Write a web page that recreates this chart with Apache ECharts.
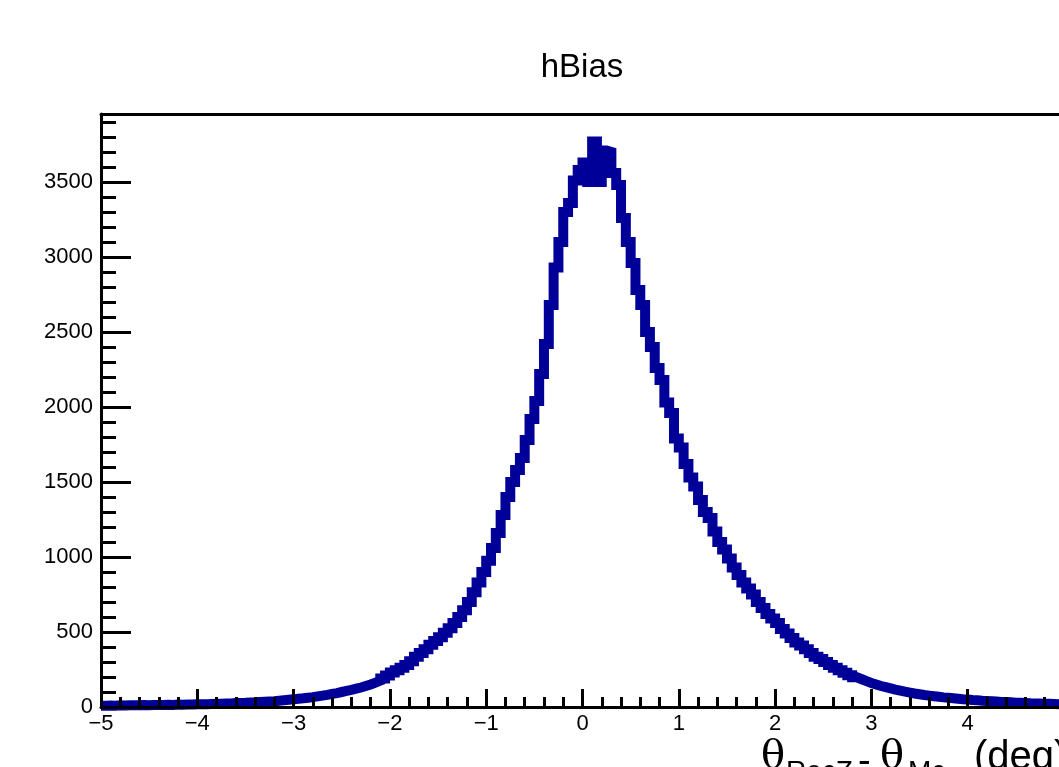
<!DOCTYPE html>
<html>
<head>
<meta charset="utf-8">
<script src="https://cdn.jsdelivr.net/npm/echarts@6/dist/echarts.min.js"></script>
<style>
html,body{margin:0;padding:0;background:#fff;}
#chart{width:1059px;height:767px;}
</style>
</head>
<body>
<div id="chart"></div>
<script>
// Histogram hBias: 200 bins from -5 to 5
const xMin = -5;
const xMax = 5;
const binWidth = 0.05;
const counts = [
  8,10,9,11,10,12,11,12,13,12,13,14,13,15,14,16,15,17,16,18,
  18,19,20,21,22,23,24,26,27,28,30,31,33,35,37,39,42,45,48,51,
  55,58,62,66,71,76,81,87,93,100,107,114,122,130,140,150,162,175,190,210,
  230,245,262,280,305,335,360,385,415,440,465,495,525,560,600,645,700,765,830,900,
  975,1060,1160,1280,1400,1500,1580,1660,1780,1920,2040,2220,2420,2680,2930,3100,3300,3360,3510,3580,
  3630,3500,3770,3500,3710,3700,3560,3480,3260,3100,2960,2780,2680,2500,2400,2260,2180,2030,1960,1790,
  1730,1620,1530,1470,1380,1300,1260,1170,1100,1050,990,930,880,830,790,750,700,660,620,590,
  560,520,490,460,430,410,385,360,335,320,300,280,262,245,228,212,198,185,172,160,
  150,140,132,124,116,109,102,96,90,85,80,76,72,68,64,61,58,55,52,50,
  47,45,42,40,38,36,34,33,31,29,28,27,25,24,23,22,21,20,19,18
];
const yMax = 3953;
const yMajor = 500;
const yMinor = 100;
const xMajor = 1;

const data = counts.map((v, i) => [xMin + i * binWidth, v]);
data.push([xMax, counts[counts.length - 1]]);

const chart = echarts.init(document.getElementById('chart'));
const labelFont = { color: '#000', fontFamily: 'Liberation Sans, Arial, sans-serif', fontSize: 22 };
chart.setOption({
  animation: false,
  backgroundColor: '#fff',
  title: {
    text: 'hBias',
    left: 577,
    top: 46,
    textAlign: 'center',
    textStyle: { color: '#000', fontFamily: 'Liberation Sans, Arial, sans-serif', fontSize: 33, fontWeight: 'normal' }
  },
  grid: { left: 101, right: -5, top: 114, bottom: 60, containLabel: false, outerBoundsMode: 'none' },
  xAxis: [
    {
      type: 'value', min: xMin, max: xMax, interval: xMajor, z: 10,
      axisLine: { show: true, onZero: false, lineStyle: { color: '#000', width: 3 } },
      axisTick: { show: true, inside: true, length: 18, lineStyle: { color: '#000', width: 3 } },
      minorTick: { show: true, splitNumber: 5, length: 10, lineStyle: { color: '#000', width: 3 } },
      splitLine: { show: false },
      axisLabel: Object.assign({ margin: 6, showMaxLabel: false, formatter: v => (v < 0 ? '\u2212' + Math.abs(v) : String(v)) }, labelFont)
    },
    {
      type: 'value', min: xMin, max: xMax, position: 'top', z: 10,
      axisLine: { show: true, onZero: false, lineStyle: { color: '#000', width: 3 } },
      axisTick: { show: false }, axisLabel: { show: false }, splitLine: { show: false }
    }
  ],
  yAxis: [
    {
      type: 'value', min: 0, max: yMax, interval: yMajor, position: 'left', z: 10,
      axisLine: { show: true, onZero: false, lineStyle: { color: '#000', width: 3 } },
      axisTick: { show: true, inside: true, length: 30, lineStyle: { color: '#000', width: 3 } },
      splitLine: { show: false },
      axisLabel: Object.assign({ margin: 8, showMaxLabel: false, formatter: v => (v % yMajor === 0 ? String(v) : '') }, labelFont)
    },
    {
      type: 'value', min: 0, max: yMax, interval: yMinor, position: 'left', offset: 0, z: 10,
      axisLine: { show: false, onZero: false },
      axisTick: { show: true, inside: true, length: 15, lineStyle: { color: '#000', width: 3 } },
      axisLabel: { show: false }, splitLine: { show: false }
    }
  ],
  series: [{
    type: 'line',
    step: 'end',
    data: data,
    symbol: 'none',
    clip: false,
    z: 1,
    lineStyle: { color: '#000099', width: 10, join: 'miter', cap: 'butt' }
  }],
  graphic: [
    { type: 'text', z: 20, style: { text: '\u03b8', x: 761, y: 778, verticalAlign: 'bottom', fill: '#000', font: '40px DejaVu Serif, serif' } },
    { type: 'text', z: 20, style: { text: 'RecZ', x: 786, y: 786, verticalAlign: 'bottom', fill: '#000', font: '28px Liberation Sans, Arial, sans-serif' } },
    { type: 'text', z: 20, style: { text: '-', x: 858, y: 782, verticalAlign: 'bottom', fill: '#000', font: '38px Liberation Sans, Arial, sans-serif' } },
    { type: 'text', z: 20, style: { text: '\u03b8', x: 880, y: 778, verticalAlign: 'bottom', fill: '#000', font: '40px DejaVu Serif, serif' } },
    { type: 'text', z: 20, style: { text: 'Mc', x: 908, y: 786, verticalAlign: 'bottom', fill: '#000', font: '28px Liberation Sans, Arial, sans-serif' } },
    { type: 'text', z: 20, style: { text: '(deg)', x: 974, y: 778, verticalAlign: 'bottom', fill: '#000', font: '40px Liberation Sans, Arial, sans-serif' } }
  ]
});
</script>
</body>
</html>
